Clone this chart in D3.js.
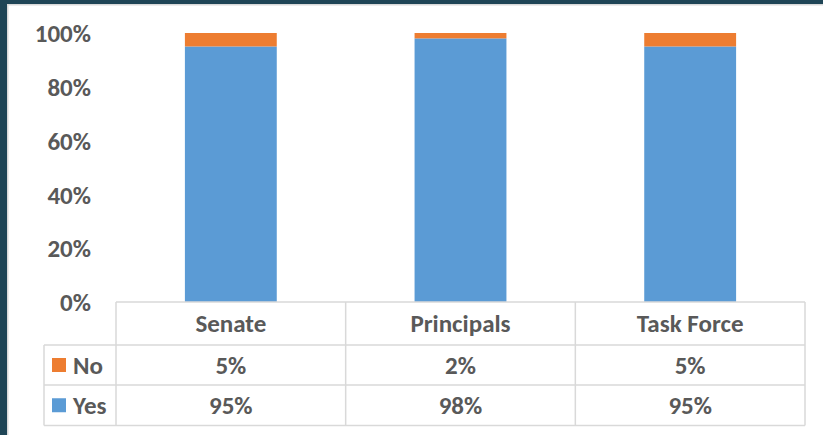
<!DOCTYPE html>
<html>
<head>
  <meta charset="utf-8">
  <script src="https://d3js.org/d3.v7.min.js"></script>
  <style>
    body { margin: 0; background: #fff; }
    text { font-family: Carlito, Calibri, "Open Sans", sans-serif; fill: #595959; font-weight: 600; }
  </style>
</head>
<body>
  <div id="chart"></div>
  <script>
    // data
    var categories = ["Senate", "Principals", "Task Force"];
    var yesValues = [0.95, 0.98, 0.95];
    var noValues = [0.05, 0.02, 0.05];
    var yTicks = [0, 0.2, 0.4, 0.6, 0.8, 1];
    var seriesNames = ["No", "Yes"];
    var seriesColors = { "No": "#ed7d31", "Yes": "#5b9bd5" };

    var W = 823, H = 435;
    var fs = "25px";
    var svg = d3.select("#chart").append("svg")
      .attr("width", W).attr("height", H);

    // frame of the slide around the chart
    svg.append("rect").attr("x", 0).attr("y", 0).attr("width", W).attr("height", 4).attr("fill", "#1f4556");
    svg.append("rect").attr("x", 0).attr("y", 0).attr("width", 7).attr("height", H).attr("fill", "#1f4556");
    svg.append("rect").attr("x", 7).attr("y", 4).attr("width", W - 7).attr("height", 1.5).attr("fill", "#d9d9d9");
    svg.append("rect").attr("x", 7).attr("y", 4).attr("width", 1.5).attr("height", H - 4).attr("fill", "#d9d9d9");

    var x = d3.scaleBand().domain(categories).range([116, 805]).paddingInner(0).paddingOuter(0);
    var y = d3.scaleLinear().domain([0, 1]).range([302, 33]);

    // y axis (labels only)
    var yAxis = svg.append("g")
      .attr("transform", "translate(91,0)")
      .call(d3.axisLeft(y).tickValues(yTicks).tickFormat(d3.format(".0%")).tickSize(0).tickPadding(0));
    yAxis.select(".domain").remove();
    yAxis.selectAll("text").style("font-size", fs).attr("dy", "0.35em");

    // stacked bars
    var rows = categories.map(function (c, i) { return { cat: c, Yes: yesValues[i], No: noValues[i] }; });
    var stack = d3.stack().keys(["Yes", "No"])(rows);
    var barW = x.bandwidth() * 0.4;

    svg.append("g").selectAll("g")
      .data(stack)
      .enter().append("g")
      .attr("fill", function (d) { return seriesColors[d.key]; })
      .selectAll("rect")
      .data(function (d) { return d; })
      .enter().append("rect")
      .attr("x", function (d) { return x(d.data.cat) + (x.bandwidth() - barW) / 2; })
      .attr("y", function (d) { return y(d[1]); })
      .attr("width", barW)
      .attr("height", function (d) { return y(d[0]) - y(d[1]); });

    // data table
    var rowY = [302, 345, 385, 425.5];
    var legendX = 44;
    var lineColor = "#d9d9d9";
    var tbl = svg.append("g").attr("stroke", lineColor).attr("stroke-width", 1.5);
    // horizontal lines
    tbl.append("line").attr("x1", x.range()[0]).attr("x2", x.range()[1]).attr("y1", rowY[0]).attr("y2", rowY[0]);
    [1, 2, 3].forEach(function (i) {
      tbl.append("line").attr("x1", legendX).attr("x2", x.range()[1]).attr("y1", rowY[i]).attr("y2", rowY[i]);
    });
    // vertical lines
    tbl.append("line").attr("x1", legendX).attr("x2", legendX).attr("y1", rowY[1]).attr("y2", rowY[3]);
    categories.forEach(function (c) {
      tbl.append("line").attr("x1", x(c)).attr("x2", x(c)).attr("y1", rowY[0]).attr("y2", rowY[3]);
    });
    tbl.append("line").attr("x1", x.range()[1]).attr("x2", x.range()[1]).attr("y1", rowY[0]).attr("y2", rowY[3]);

    // header
    svg.append("g").selectAll("text")
      .data(categories)
      .enter().append("text")
      .attr("x", function (d) { return x(d) + x.bandwidth() / 2; })
      .attr("y", (rowY[0] + rowY[1]) / 2)
      .attr("dy", "0.35em")
      .attr("text-anchor", "middle")
      .style("font-size", fs)
      .text(function (d) { return d; });

    // series rows
    var seriesVals = { "No": noValues, "Yes": yesValues };
    seriesNames.forEach(function (s, r) {
      var cy = (rowY[r + 1] + rowY[r + 2]) / 2;
      svg.append("rect").attr("x", legendX + 8).attr("y", cy - 7).attr("width", 14).attr("height", 14)
        .attr("fill", seriesColors[s]);
      svg.append("text").attr("x", legendX + 29).attr("y", cy).attr("dy", "0.35em")
        .style("font-size", fs).text(s);
      svg.append("g").selectAll("text")
        .data(seriesVals[s])
        .enter().append("text")
        .attr("x", function (d, i) { return x(categories[i]) + x.bandwidth() / 2; })
        .attr("y", cy)
        .attr("dy", "0.35em")
        .attr("text-anchor", "middle")
        .style("font-size", fs)
        .text(function (d) { return d3.format(".0%")(d); });
    });
  </script>
</body>
</html>
